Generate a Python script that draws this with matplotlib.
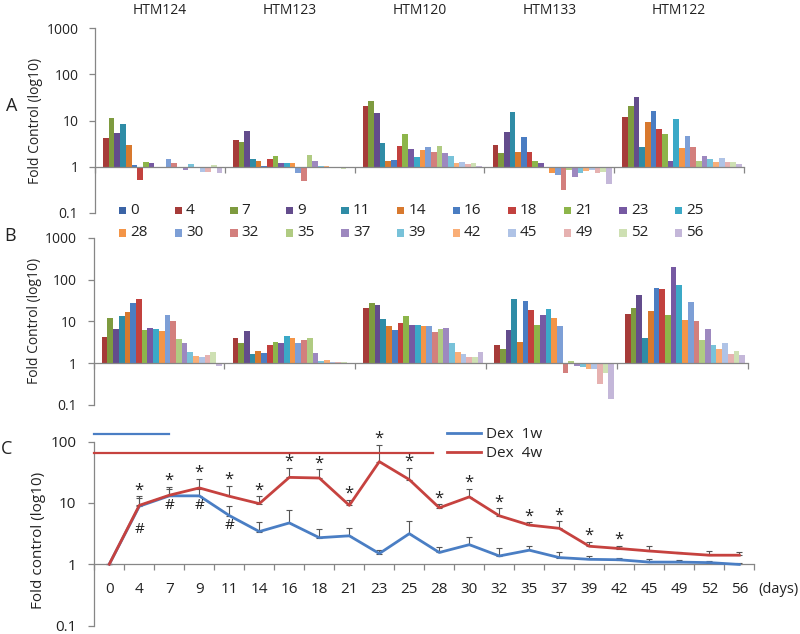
import numpy as np
import matplotlib
matplotlib.use("Agg")
import matplotlib.pyplot as plt
from matplotlib.patches import Rectangle
from matplotlib.ticker import NullLocator
import matplotlib.transforms as mtransforms

plt.rcParams['font.family'] = ['Open Sans', 'DejaVu Sans']

# ---------------- data ----------------
days = ["0", "4", "7", "9", "11", "14", "16", "18", "21", "23", "25",
        "28", "30", "32", "35", "37", "39", "42", "45", "49", "52", "56"]
groups = ["HTM124", "HTM123", "HTM120", "HTM133", "HTM122"]

series_colors = ["#3B64A6", "#A63B39", "#7E9B3F", "#634C8C", "#2F8CA6", "#D8792E",
                 "#4A7DC2", "#C2413E", "#8DB54A", "#7659A2", "#3BA9C7", "#F49547",
                 "#7D9FD6", "#D37F7D", "#B0CB82", "#9D88BF", "#78C2D9", "#F9AE77",
                 "#AFC3E6", "#E6B1B0", "#CEE0B3", "#C4B7D9"]

# Panel A (fold control, one value per time point)
a_htm124 = [1.0, 4.1, 11.6, 5.5, 8.3, 3.0, 1.1, 0.53, 1.24, 1.18, 1.0,
            1.0, 1.5, 1.18, 1.0, 0.83, 1.12, 1.0, 0.77, 0.77, 1.08, 0.75]
a_htm123 = [1.0, 3.7, 3.4, 5.9, 1.49, 1.3, 1.02, 1.44, 1.68, 1.18, 1.18,
            1.2, 0.72, 0.49, 1.82, 1.33, 1.03, 1.02, 1.0, 1.0, 0.88, 1.0]
a_htm120 = [1.0, 20.2, 26.8, 14.4, 3.3, 1.35, 1.4, 2.8, 5.0, 2.4, 1.62,
            2.3, 2.7, 2.05, 2.86, 2.0, 1.73, 1.22, 1.28, 1.12, 1.22, 1.05]
a_htm133 = [1.0, 2.9, 2.0, 5.7, 15.4, 2.08, 4.3, 2.08, 1.35, 1.22, 1.0,
            0.72, 0.67, 0.31, 0.85, 0.6, 0.72, 0.8, 0.83, 0.72, 0.77, 0.43]
a_htm122 = [1.0, 12.2, 20.8, 32.0, 2.7, 9.2, 16.0, 6.4, 5.2, 1.33, 11.0,
            2.6, 4.6, 2.7, 1.35, 1.68, 1.44, 1.28, 1.54, 1.24, 1.24, 1.14]

# Panel B
b_htm124 = [1.0, 4.2, 12.2, 6.4, 13.2, 17.0, 27.3, 33.4, 6.2, 6.9, 6.6,
            6.0, 14.4, 10.4, 3.7, 3.1, 1.9, 1.47, 1.41, 1.6, 1.83, 0.86]
b_htm123 = [1.0, 3.9, 3.1, 5.9, 1.7, 1.97, 1.76, 2.7, 3.2, 3.05, 4.4,
            3.9, 3.05, 3.5, 4.1, 1.73, 1.1, 1.18, 1.08, 1.05, 1.04, 1.03]
b_htm120 = [1.0, 21.0, 28.0, 24.5, 11.6, 7.6, 6.1, 9.3, 13.6, 8.0, 8.3,
            7.6, 7.6, 5.5, 6.6, 6.8, 3.1, 1.86, 1.64, 1.44, 1.44, 1.86]
b_htm133 = [1.0, 2.73, 2.15, 6.1, 33.4, 3.2, 30.5, 19.0, 8.2, 13.9, 20.0,
            12.2, 7.7, 0.58, 1.14, 0.86, 0.83, 0.73, 0.73, 0.32, 0.57, 0.14]
b_htm122 = [1.0, 15.0, 20.8, 41.6, 4.1, 17.6, 62.0, 59.0, 14.4, 200.0, 76.0,
            10.8, 29.4, 10.4, 3.6, 6.6, 2.7, 2.15, 3.05, 1.64, 1.97, 1.58]

# Panel C (mean and upper error)
dex1w_mean = [1.0, 8.8, 13.0, 13.0, 6.2, 3.4, 4.7, 2.7, 2.9, 1.49, 3.14,
              1.55, 2.08, 1.36, 1.69, 1.28, 1.2, 1.18, 1.08, 1.08, 1.06, 0.99]
dex1w_upper = [1.0, 11.8, 17.0, 17.0, 8.9, 4.9, 7.6, 3.7, 3.9, 1.69, 5.1,
               1.93, 2.8, 1.82, 2.0, 1.57, 1.36, 1.25, 1.22, 1.16, 1.13, 1.06]
dex4w_mean = [1.0, 9.1, 13.3, 17.5, 12.8, 9.7, 26.0, 25.4, 9.1, 47.0, 23.9,
              8.3, 12.5, 6.15, 4.34, 3.84, 1.96, 1.8, 1.64, 1.51, 1.4, 1.4]
dex4w_upper = [1.0, 12.8, 18.2, 24.8, 18.9, 12.8, 37.0, 35.0, 11.3, 88.0, 37.0,
               9.5, 17.0, 8.1, 4.8, 5.0, 2.33, 2.0, 2.0, 1.6, 1.64, 1.58]
star_days = ["4", "7", "9", "11", "14", "16", "18", "21", "23", "25", "28",
             "30", "32", "35", "37", "39", "42"]
hash_days = ["4", "7", "9", "11"]
treatment_end = {"Dex  1w": "7", "Dex  4w": "28"}
treatment_level = {"Dex  1w": 133.0, "Dex  4w": 66.0}

panel_a = [a_htm124, a_htm123, a_htm120, a_htm133, a_htm122]
panel_b = [b_htm124, b_htm123, b_htm120, b_htm133, b_htm122]

# ---------------- style ----------------
W, H = 800, 634
axis_gray = "#868686"
text_col = "#222222"
blue = "#4A7EC4"
red = "#C6423F"

fig = plt.figure(figsize=(W / 100, H / 100), dpi=100)


def frac_box(x0, y_top, x1, y_bot):
    return [x0 / W, 1 - y_bot / H, (x1 - x0) / W, (y_bot - y_top) / H]


def setup_bar_axes(ax):
    ax.set_yscale('log')
    ax.set_ylim(0.1, 1000)
    ax.set_xlim(-0.5, len(groups) - 0.5)
    for s in ['top', 'right']:
        ax.spines[s].set_visible(False)
    ax.spines['bottom'].set_position(('data', 1))
    for s in ['left', 'bottom']:
        ax.spines[s].set_color(axis_gray)
        ax.spines[s].set_linewidth(0.9)
    ax.set_yticks([0.1, 1, 10, 100, 1000])
    ax.set_yticklabels(['0.1', '1', '10', '100', '1000'])
    ax.yaxis.set_minor_locator(NullLocator())
    ax.set_xticks(np.arange(-0.5, len(groups), 1.0))
    ax.set_xticklabels([])
    ax.tick_params(axis='both', color=axis_gray, length=4, width=0.9, direction='out')
    ax.tick_params(axis='y', labelsize=10, pad=8, labelcolor=text_col)
    ax.set_ylabel("Fold Control (log10)", fontsize=10, color=text_col)


def draw_bars(ax, panel):
    n = len(days)
    w = 0.962 / n
    xg = np.arange(len(groups))
    for j in range(n):
        vals = np.array([panel[g][j] for g in range(len(groups))])
        ax.bar(xg + (j - (n - 1) / 2) * w, vals - 1.0, bottom=1.0, width=w,
               color=series_colors[j], linewidth=0, zorder=2)


# Panel A
axA = fig.add_axes(frac_box(95, 28, 744, 213))
setup_bar_axes(axA)
draw_bars(axA, panel_a)
axA.yaxis.set_label_coords(-0.08, 0.5)
trans = mtransforms.blended_transform_factory(axA.transData, axA.transAxes)
for i, g in enumerate(groups):
    axA.text(i, 1.097, g, transform=trans, ha='center', va='center',
             fontsize=10, color=text_col)

# Panel B
axB = fig.add_axes(frac_box(93.5, 237.7, 747.5, 405))
setup_bar_axes(axB)
draw_bars(axB, panel_b)
axB.yaxis.set_label_coords(-0.078, 0.5)

# Legend between A and B (row-major, 11 per row)
for k, d in enumerate(days):
    row, col = divmod(k, 11)
    x0 = 119 + col * 55.6
    yc = 210.5 + row * 22.5
    fig.patches.append(Rectangle((x0 / W, 1 - (yc + 3.7) / H), 7.4 / W, 7.4 / H,
                                 transform=fig.transFigure, facecolor=series_colors[k],
                                 edgecolor='none'))
    fig.text((x0 + 11.5) / W, 1 - yc / H, d, ha='left', va='center',
             fontsize=11, color=text_col)

# Panel C
axC = fig.add_axes(frac_box(94.3, 441.5, 754.3, 625.5))
axC.set_yscale('log')
axC.set_ylim(0.1, 100)
axC.set_xlim(-0.5, len(days) - 0.5)
for s in ['top', 'right']:
    axC.spines[s].set_visible(False)
axC.spines['bottom'].set_position(('data', 1))
for s in ['left', 'bottom']:
    axC.spines[s].set_color(axis_gray)
    axC.spines[s].set_linewidth(0.9)
axC.set_yticks([0.1, 1, 10, 100])
axC.set_yticklabels(['0.1', '1', '10', '100'])
axC.yaxis.set_minor_locator(NullLocator())
x = np.arange(len(days))
axC.set_xticks(x)
axC.set_xticklabels(days)
axC.set_xticks(np.arange(-0.5, len(days), 1.0), minor=True)
axC.tick_params(axis='x', which='major', length=0, pad=13, labelsize=11, labelcolor=text_col)
axC.tick_params(axis='x', which='minor', length=4, width=0.9, color=axis_gray, direction='out')
axC.tick_params(axis='y', which='major', length=4, width=0.9, color=axis_gray, pad=9,
                labelsize=11, labelcolor=text_col)
axC.set_ylabel("Fold control (log10)", fontsize=11, color=text_col)
axC.yaxis.set_label_coords(-0.073, 0.46)

m1 = np.array(dex1w_mean); u1 = np.array(dex1w_upper)
m4 = np.array(dex4w_mean); u4 = np.array(dex4w_upper)
axC.errorbar(x, m1, yerr=[np.zeros_like(m1), u1 - m1], fmt='none', ecolor='#555555',
             elinewidth=0.8, capsize=2.3, capthick=0.8, zorder=2)
axC.errorbar(x, m4, yerr=[np.zeros_like(m4), u4 - m4], fmt='none', ecolor='#555555',
             elinewidth=0.8, capsize=2.3, capthick=0.8, zorder=2)
l1, = axC.plot(x, m1, color=blue, lw=2.0, zorder=3, label="Dex  1w", clip_on=False)
l4, = axC.plot(x, m4, color=red, lw=2.0, zorder=3, label="Dex  4w", clip_on=False)

for d in star_days:
    i = days.index(d)
    axC.annotate("*", (i, u4[i]), xytext=(0, -1.5), textcoords='offset points',
                 ha='center', va='bottom', fontsize=12, color=text_col)
for d in hash_days:
    i = days.index(d)
    off = -17 if i == 1 else -7
    axC.annotate("#", (i, m1[i]), xytext=(0, off), textcoords='offset points',
                 ha='center', va='center', fontsize=11, color=text_col)

# x-axis unit label
axC.annotate("(days)", (len(days) - 0.5, 1), xytext=(3, -13), textcoords='offset points',
             ha='left', va='top', fontsize=10.5, color=text_col, annotation_clip=False)

# treatment duration bars
for name, col in [("Dex  1w", blue), ("Dex  4w", red)]:
    end = days.index(treatment_end[name])
    axC.plot([-0.5, end - 0.2 * (end > 5)], [treatment_level[name]] * 2, color=col,
             lw=1.6, clip_on=False, zorder=3)

fig.legend(handles=[l1, l4], labels=["Dex  1w", "Dex  4w"], loc='center left',
           bbox_to_anchor=(447 / W, 1 - 444 / H), frameon=False, fontsize=11,
           handlelength=2.2, handletextpad=0.35, labelspacing=0.25, borderpad=0,
           borderaxespad=0, labelcolor=text_col)

# panel letters
for letter, (px, py) in {"A": (12, 106), "B": (10, 236), "C": (7, 449)}.items():
    fig.text(px / W, 1 - py / H, letter, ha='center', va='center', fontsize=13,
             color=text_col)

fig.savefig("out.png", dpi=100)
